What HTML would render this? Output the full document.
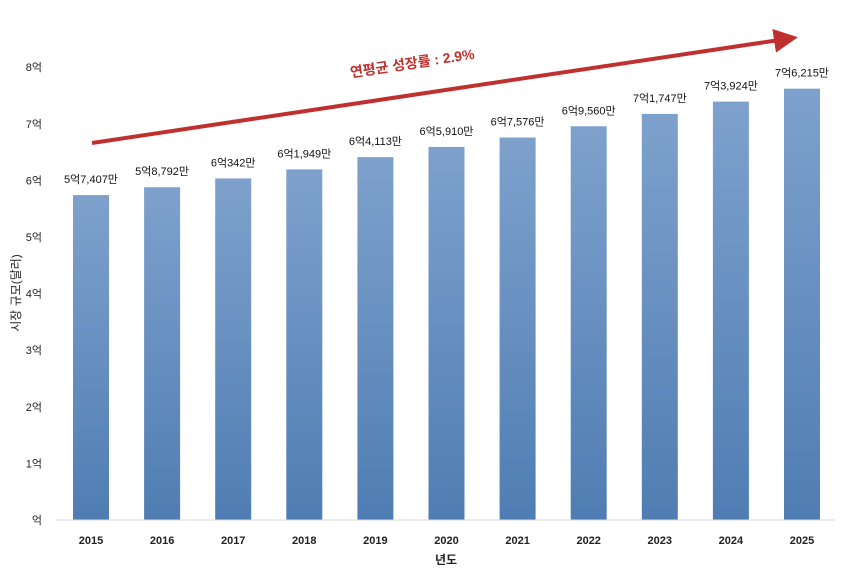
<!DOCTYPE html>
<html><head><meta charset="utf-8"><style>
body{margin:0;background:#fff;}
svg text{font-family:"Liberation Sans","Noto Sans CJK KR",sans-serif;}
</style></head><body>
<svg width="846" height="578" viewBox="0 0 846 578">
<defs><linearGradient id="g" x1="0" y1="0" x2="0" y2="1"><stop offset="0" stop-color="#7ea1cc"/><stop offset="1" stop-color="#4f7db3"/></linearGradient>
<marker id="ah" markerWidth="6" markerHeight="6" refX="3" refY="3" orient="auto" markerUnits="strokeWidth"><path d="M0,0 L6,3 L0,6 Z" fill="#c0302e"/></marker></defs>
<g id="yaxis"></g>
<g id="bars"></g>
<line x1="55" y1="520" x2="835" y2="520" stroke="#d9d9d9" stroke-width="1"/>
<text x="20" y="293" transform="rotate(-90 20 293)" text-anchor="middle" font-size="12" fill="#222">시장 규모(달러)</text>
<text x="446" y="564" text-anchor="middle" font-size="12" font-weight="bold" fill="#222">년도</text>
<line x1="92" y1="143" x2="786" y2="39" stroke="#c0302e" stroke-width="4" marker-end="url(#ah)"/>
<text x="413" y="68" transform="rotate(-8.6 413 68)" text-anchor="middle" font-size="14" font-weight="bold" fill="#c0302e">연평균 성장률 : 2.9%</text>
</svg>
<script>
const years=["2015","2016","2017","2018","2019","2020","2021","2022","2023","2024","2025"];
const values=[5.7407,5.8792,6.0342,6.1949,6.4113,6.5910,6.7576,6.9560,7.1747,7.3924,7.6215];
const valueLabels=["5억7,407만","5억8,792만","6억342만","6억1,949만","6억4,113만","6억5,910만","6억7,576만","6억9,560만","7억1,747만","7억3,924만","7억6,215만"];
const yTicks=[0,1,2,3,4,5,6,7,8];
const NS="http://www.w3.org/2000/svg";
const y=v=>520-v*56.6;
const x=i=>91+i*71.1;
const bw=36;
const ya=document.getElementById('yaxis'),bg=document.getElementById('bars');
yTicks.forEach(t=>{const e=document.createElementNS(NS,'text');


e.setAttribute('x',42);e.setAttribute('y',y(t)+4);e.setAttribute('text-anchor','end');e.setAttribute('font-size','11');e.setAttribute('fill','#222');
e.textContent=(t===0?'':t)+'억';ya.appendChild(e);});
years.forEach((yr,i)=>{const r=document.createElementNS(NS,'rect');


r.setAttribute('x',x(i)-bw/2);r.setAttribute('y',y(values[i]));r.setAttribute('width',bw);r.setAttribute('height',520-y(values[i]));r.setAttribute('fill','url(#g)');bg.appendChild(r);
const l=document.createElementNS(NS,'text');


l.setAttribute('x',x(i));l.setAttribute('y',y(values[i])-12);l.setAttribute('text-anchor','middle');l.setAttribute('font-size','11');l.setAttribute('fill','#111');l.textContent=valueLabels[i];bg.appendChild(l);
const t=document.createElementNS(NS,'text');


t.setAttribute('x',x(i));t.setAttribute('y',544);t.setAttribute('text-anchor','middle');t.setAttribute('font-size','11');t.setAttribute('font-weight','bold');t.setAttribute('fill','#222');t.textContent=yr;bg.appendChild(t);});
</script>
</body></html>
